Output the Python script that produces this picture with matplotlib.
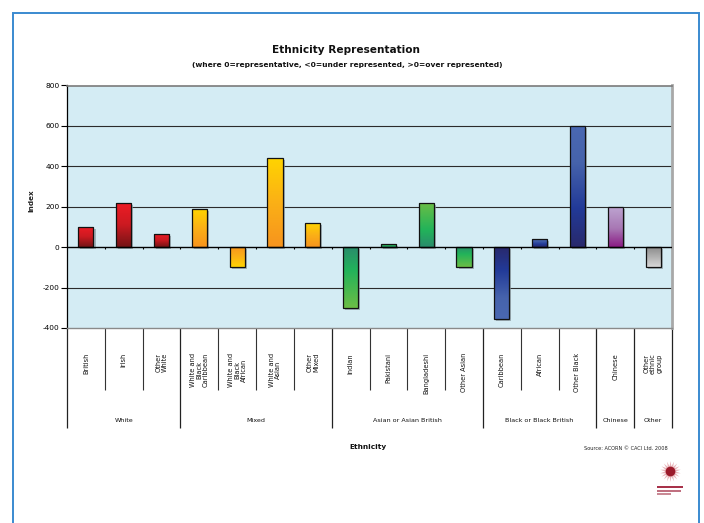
import numpy as np
import matplotlib
matplotlib.use("Agg")
import matplotlib.pyplot as plt
from matplotlib.colors import LinearSegmentedColormap
from matplotlib.patches import Rectangle
import matplotlib.patheffects as pe
import matplotlib.transforms as mtransforms

# ---------------- data ----------------
categories = ["British", "Irish", "Other\nWhite",
              "White and\nBlack\nCaribbean", "White and\nBlack\nAfrican", "White and\nAsian", "Other\nMixed",
              "Indian", "Pakistani", "Bangladeshi", "Other Asian",
              "Caribbean", "African", "Other Black",
              "Chinese",
              "Other\nethnic\ngroup"]
values = [100, 218, 65,
          187, -100, 440, 118,
          -300, 18, 220, -100,
          -355, 40, 598,
          200,
          -100]
groups = ["White", "Mixed", "Asian or Asian British", "Black or Black British", "Chinese", "Other"]
group_sizes = [3, 4, 4, 3, 1, 1]
y_ticks = [-400, -200, 0, 200, 400, 600, 800]

# gradient stops per group (baseline -> far end)
group_stops = [
    [(0.0, "#741416"), (0.5, "#CC1A21"), (1.0, "#EE1C25")],
    [(0.0, "#F7941E"), (0.5, "#FBB016"), (1.0, "#FFD400")],
    [(0.0, "#2A8C6C"), (0.38, "#22B35A"), (1.0, "#6CBE45")],
    [(0.0, "#29296C"), (0.32, "#223A98"), (0.7, "#4663AC"), (1.0, "#4A68B2")],
    [(0.0, "#8A1A84"), (0.45, "#A877B4"), (1.0, "#BEA6D1")],
    [(0.0, "#888888"), (1.0, "#D8D8D8")],
]

W, H = 704, 523
fig = plt.figure(figsize=(W / 100, H / 100), dpi=100)
fig.patch.set_facecolor("white")

def fx(px):
    return px / W

def fy(py):
    return 1 - py / H

# blue frame around page
fig.patches.append(Rectangle((fx(13), fy(540)), fx(698.5) - fx(13), fy(12.5) - fy(540),
                             transform=fig.transFigure, fill=False, edgecolor="#3A8AD0",
                             linewidth=1.4, zorder=0))

L, R, T, B = 67, 672, 85.5, 328
ax = fig.add_axes([fx(L), fy(B), fx(R) - fx(L), fy(T) - fy(B)])
ax.set_facecolor("#D4ECF4")
n = len(values)
x = np.arange(n)
ax.set_xlim(-0.5, n - 0.5)
ax.set_ylim(-400, 800)

# grid lines
for yv in y_ticks:
    if yv in (-400, 0, 800):
        continue
    ax.axhline(yv, color="#2b2b2b", linewidth=0.8, zorder=1)

# group index for each bar
bar_group = []
for gi, s in enumerate(group_sizes):
    bar_group += [gi] * s

bw = 0.4
shadow = ax.bar(x, values, width=bw, color="#8a9a9f", linewidth=0, zorder=2)
for p in shadow:
    p.set_path_effects([pe.SimplePatchShadow(offset=(1.5, -1.5), shadow_rgbFace="#8a9aa0", alpha=0.7)])
    p.set_facecolor("none")

bars = ax.bar(x, values, width=bw, facecolor="none", edgecolor="#111111", linewidth=0.9, zorder=4)
for bar, v, gi in zip(bars, values, bar_group):
    cmap = LinearSegmentedColormap.from_list("g%d" % gi, group_stops[gi])
    t = np.linspace(0, 1, 256)
    if v < 0:
        t = t[::-1]
    grad = t.reshape(-1, 1)
    x0 = bar.get_x()
    x1 = x0 + bar.get_width()
    y0 = min(0, v)
    y1 = max(0, v)
    im = ax.imshow(grad, cmap=cmap, vmin=0, vmax=1, origin="lower", aspect="auto",
                   extent=[x0, x1, y0, y1], interpolation="bilinear", zorder=3)
    im.set_clip_path(bar)
ax.set_xlim(-0.5, n - 0.5)
ax.set_ylim(-400, 800)

# zero line with small downward ticks at category boundaries
ax.axhline(0, color="#000000", linewidth=1.0, zorder=5)
for k in range(n - 1):
    ax.plot([k + 0.5, k + 0.5], [0, -10], color="#000000", linewidth=0.8, zorder=5,
            solid_capstyle="butt")

# spines
ax.spines["left"].set_color("#000000")
ax.spines["left"].set_linewidth(0.9)
ax.spines["top"].set_color("#7a7a7a")
ax.spines["top"].set_linewidth(1.2)
ax.spines["right"].set_color("#a8a8a8")
ax.spines["right"].set_linewidth(2.0)
ax.spines["bottom"].set_color("#8a8a8a")
ax.spines["bottom"].set_linewidth(1.0)

ax.set_yticks(y_ticks)
ax.set_yticklabels([str(v) for v in y_ticks], fontsize=5.3, family="DejaVu Sans")
ax.tick_params(axis="y", direction="out", length=4, width=0.8, pad=1.5, color="#000000")
ax.set_xticks([])

# category table below the axis
trans = mtransforms.blended_transform_factory(ax.transData, ax.transAxes)
ah = B - T
def af(py):
    return -(py - B) / ah

sub_bottom = af(390)
grp_bottom = af(428)
boundaries = set()
acc = 0
for s in group_sizes:
    acc += s
    boundaries.add(acc - 0.5)
for k in range(n + 1):
    xb = k - 0.5
    full = (k == 0) or (xb in boundaries)
    ax.plot([xb, xb], [0, grp_bottom if full else sub_bottom], transform=trans,
            color="#222222" if full else "#333333", linewidth=0.9 if full else 0.8,
            clip_on=False, solid_capstyle="butt")

for xi, lab in zip(x, categories):
    ax.text(xi, af(353), lab, transform=trans, rotation=90, rotation_mode="anchor",
            ha="right", va="center", multialignment="center", fontsize=4.8,
            linespacing=1.1, color="#111111")

acc = 0
for g, s in zip(groups, group_sizes):
    cx = acc + (s - 1) / 2
    ax.text(cx, af(421), g, transform=trans, ha="center", va="center",
            fontsize=4.6, color="#111111")
    acc += s

# titles and labels
fig.text(fx(346), fy(50), "Ethnicity Representation", ha="center", va="center",
         fontsize=7.6, fontweight="bold", color="#111111")
fig.text(fx(347), fy(64.5), "(where 0=representative, <0=under represented, >0=over represented)",
         ha="center", va="center", fontsize=5.4, fontweight="bold", color="#111111")
fig.text(fx(368), fy(447), "Ethnicity", ha="center", va="center", fontsize=5.3,
         fontweight="bold", color="#111111")
fig.text(fx(31), fy(201), "Index", ha="center", va="center", rotation=90, fontsize=5.2,
         fontweight="bold", color="#222222")
fig.text(fx(668), fy(449), "Source: ACORN \u00a9 CACI Ltd. 2008", ha="right", va="center",
         fontsize=3.6, color="#222222")

# small logo
lx, ly = fx(670), fy(471)
fig.add_artist(plt.Line2D([lx], [ly], marker=(18, 1, 0), markersize=15, color="#e8b3b8",
                          markeredgewidth=0, transform=fig.transFigure))
fig.add_artist(plt.Line2D([lx], [ly], marker="o", markersize=7, color="#9b1a2a",
                          markeredgewidth=0, transform=fig.transFigure))
for i, (w, c) in enumerate([(26, "#a8324a"), (24, "#c07080"), (14, "#c98a95")]):
    fig.patches.append(Rectangle((fx(657), fy(488 + i * 3.5)), fx(w), 1.6 / H,
                                 transform=fig.transFigure, color=c, linewidth=0))

fig.savefig("out.png", dpi=100)
